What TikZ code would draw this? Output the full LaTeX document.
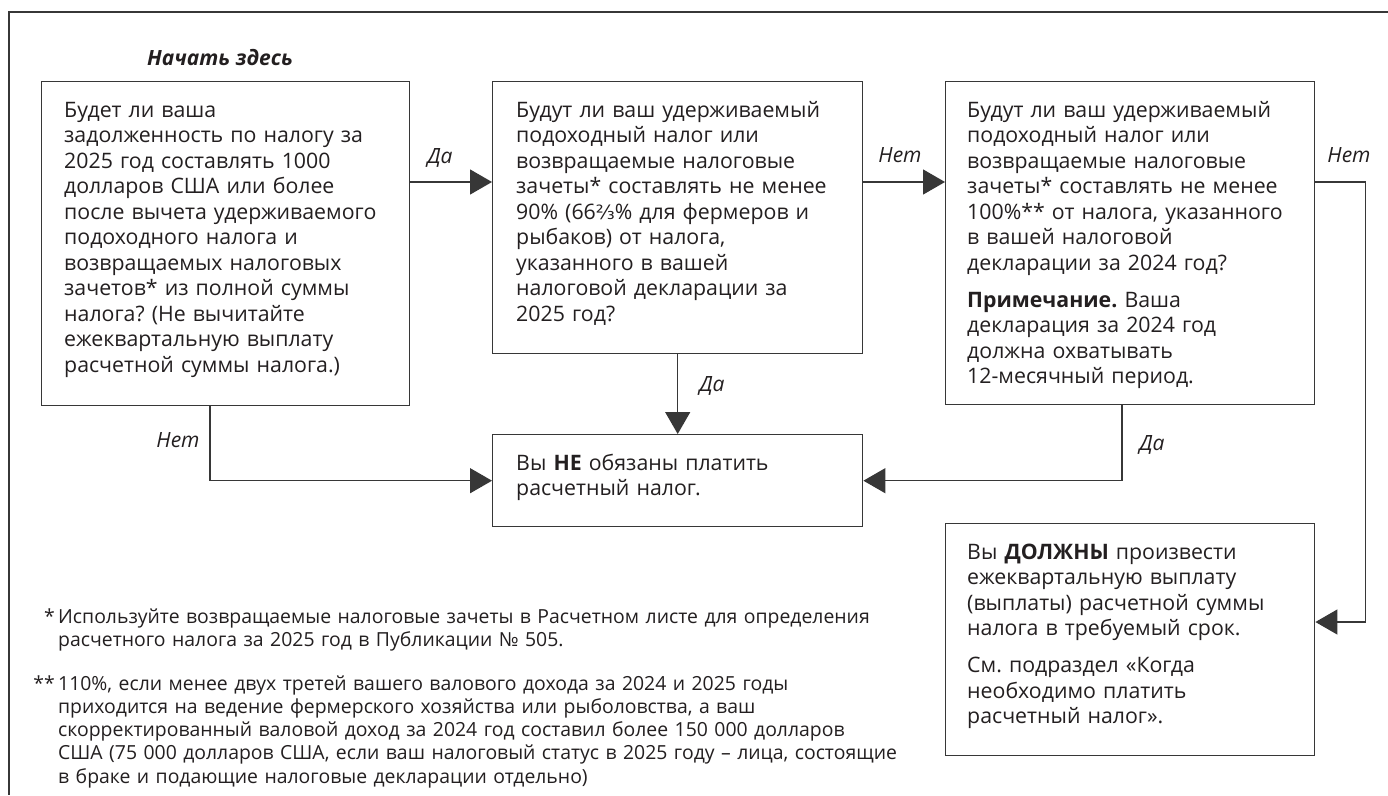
\documentclass[tikz,border=0pt]{standalone}
\usepackage{fontspec}
\setmainfont{Open Sans}
\newfontfamily\fracfont{DejaVu Sans}[Scale=0.92]
\usetikzlibrary{arrows.meta}
\definecolor{ink}{RGB}{35,31,32}
\definecolor{linec}{RGB}{55,55,55}
\frenchspacing
\begin{document}
\frenchspacing
\begin{tikzpicture}[x=1pt,y=-1pt,
  box/.style={draw=linec, line width=1.4pt, inner sep=0pt, anchor=north west},
  txt/.style={anchor=base west, inner sep=0pt, text width=360pt, align=left, text=ink,
              font=\fontsize{21.3}{25.5}\selectfont},
  lbl/.style={inner sep=0pt, anchor=base, text=ink, font=\fontsize{21}{23}\selectfont\itshape},
  conn/.style={draw=linec, line width=1.3pt},
  arr/.style={conn, -{Triangle[length=22pt,width=25pt]}},
  fnmark/.style={anchor=base east, inner sep=0pt, text=ink, font=\fontsize{19.4}{23.3}\selectfont},
  fn/.style={anchor=base west, inner sep=0pt, text width=1000pt, align=left, text=ink,
             font=\fontsize{19.4}{23.3}\selectfont}]
\useasboundingbox (0,0) rectangle (1388,795);
\fill[white] (0,0) rectangle (1388,795);
% outer frame
\draw[conn] (1388,12) -- (9,12) -- (9,795);

% boxes
\node[box, minimum width=368pt, minimum height=324pt] (b1) at (41,81) {};
\node[box, minimum width=370pt, minimum height=272pt] (b2) at (492,81) {};
\node[box, minimum width=369pt, minimum height=323pt] (b3) at (945,81) {};
\node[box, minimum width=370pt, minimum height=92pt]  (b4) at (492,434) {};
\node[box, minimum width=369pt, minimum height=232pt] (b5) at (945,523) {};

% texts
\node[txt] (t1) at ([xshift=23pt,yshift=-36pt]b1.north west) {Будет ли ваша\\
задолженность по налогу за\\
2025 год составлять 1000\\
долларов США или более\\
после вычета удерживаемого\\
подоходного налога и\\
возвращаемых налоговых\\
зачетов* из полной суммы\\
налога? (Не вычитайте\\
ежеквартальную выплату\\
расчетной суммы налога.)};

\node[txt] (t2) at ([xshift=24pt,yshift=-36pt]b2.north west) {Будут ли ваш удерживаемый\\
подоходный налог или\\
возвращаемые налоговые\\
зачеты* составлять не менее\\
90\% (66{\fracfont ⅔}\% для фермеров и\\
рыбаков) от налога,\\
указанного в вашей\\
налоговой декларации за\\
2025 год?};

\node[txt] (t3) at ([xshift=22pt,yshift=-36pt]b3.north west) {Будут ли ваш удерживаемый\\
подоходный налог или\\
возвращаемые налоговые\\
зачеты* составлять не менее\\
100\%** от налога, указанного\\
в вашей налоговой\\
декларации за 2024 год?\\[11.5pt]
\textbf{Примечание.} Ваша\\
декларация за 2024 год\\
должна охватывать\\
12-месячный период.};

\node[txt] (t4) at ([xshift=24pt,yshift=-36pt]b4.north west) {Вы \textbf{НЕ} обязаны платить\\
расчетный налог.};

\node[txt] (t5) at ([xshift=22pt,yshift=-36pt]b5.north west) {Вы \textbf{ДОЛЖНЫ} произвести\\
ежеквартальную выплату\\
(выплаты) расчетной суммы\\
налога в требуемый срок.\\[11.5pt]
См. подраздел «Когда\\
необходимо платить\\
расчетный налог».};

% start label
\node[lbl, font=\fontsize{21}{23}\selectfont\bfseries\itshape] (start) at (220,65) {Начать здесь};

% connectors
\draw[arr] ([yshift=-101pt]b1.north east) -- ([yshift=-101pt]b2.north west);
\draw[arr] ([yshift=-101pt]b2.north east) -- ([yshift=-101pt]b3.north west);
\draw[arr] (b2.south) -- (b4.north);
\draw[arr] ([xshift=169pt]b1.south west) |- (b4.west);
\draw[arr] ([xshift=177pt]b3.south west) |- (b4.east);
\draw[arr] ([yshift=-101pt]b3.north east) -| ([xshift=50pt,yshift=-99pt]b5.north east) -- ([yshift=-99pt]b5.north east);

% connector labels
\node[lbl] (l1) at (440,163) {Да};
\node[lbl] (l2) at (900,162) {Нет};
\node[lbl] (l3) at (1349,162) {Нет};
\node[lbl] (l4) at (712,391) {Да};
\node[lbl] (l5) at (178,447) {Нет};
\node[lbl] (l6) at (1152,450) {Да};

% footnotes
\node[fnmark] (f1m) at (55,623) {*};
\node[fn] (f1) at (58,623) {Используйте возвращаемые налоговые зачеты в Расчетном листе для определения\\
расчетного налога за 2025 год в Публикации № 505.};
\node[fnmark] (f2m) at (55,690) {**};
\node[fn] (f2) at (58,690) {110\%, если менее двух третей вашего валового дохода за 2024 и 2025 годы\\
приходится на ведение фермерского хозяйства или рыболовства, а ваш\\
скорректированный валовой доход за 2024 год составил более 150~000 долларов\\
США (75~000 долларов США, если ваш налоговый статус в 2025 году – лица, состоящие\\
в браке и подающие налоговые декларации отдельно)};
\end{tikzpicture}
\end{document}
